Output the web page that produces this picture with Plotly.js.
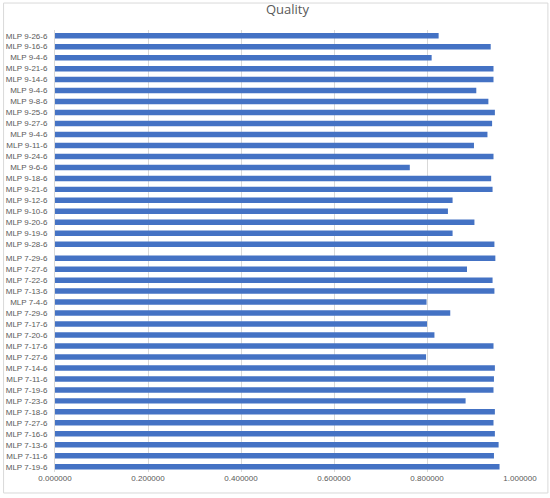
<!DOCTYPE html>
<html>
<head>
<meta charset="utf-8">
<script src="https://cdn.plot.ly/plotly-3.0.1.min.js"></script>
<style>
	html, body { margin: 0; padding: 0; background: #fff; }
	#chart { width: 550px; height: 498px; }
</style>
</head>
<body>
<div id="chart"></div>
<script>
	'use strict';

	// September group (top to bottom)
	const labels9 = [
		'MLP 9-26-6', 'MLP 9-16-6', 'MLP 9-4-6', 'MLP 9-21-6', 'MLP 9-14-6',
		'MLP 9-4-6', 'MLP 9-8-6', 'MLP 9-25-6', 'MLP 9-27-6', 'MLP 9-4-6',
		'MLP 9-11-6', 'MLP 9-24-6', 'MLP 9-6-6', 'MLP 9-18-6', 'MLP 9-21-6',
		'MLP 9-12-6', 'MLP 9-10-6', 'MLP 9-20-6', 'MLP 9-19-6', 'MLP 9-28-6',
	];
	const quality9 = [
		0.825, 0.937, 0.810, 0.943, 0.943,
		0.906, 0.932, 0.946, 0.940, 0.930,
		0.901, 0.943, 0.763, 0.938, 0.941,
		0.855, 0.845, 0.902, 0.855, 0.945,
	];

	// July group (top to bottom)
	const labels7 = [
		'MLP 7-29-6', 'MLP 7-27-6', 'MLP 7-22-6', 'MLP 7-13-6', 'MLP 7-4-6',
		'MLP 7-29-6', 'MLP 7-17-6', 'MLP 7-20-6', 'MLP 7-17-6', 'MLP 7-27-6',
		'MLP 7-14-6', 'MLP 7-11-6', 'MLP 7-19-6', 'MLP 7-23-6', 'MLP 7-18-6',
		'MLP 7-27-6', 'MLP 7-16-6', 'MLP 7-13-6', 'MLP 7-11-6', 'MLP 7-19-6',
	];
	const quality7 = [
		0.947, 0.886, 0.941, 0.945, 0.799,
		0.850, 0.800, 0.816, 0.943, 0.798,
		0.946, 0.944, 0.943, 0.883, 0.946,
		0.943, 0.946, 0.954, 0.944, 0.956,
	];

	const xTicks = [0, 0.2, 0.4, 0.6, 0.8, 1.0];

	// small extra gap between the two groups (as in the source sheet)
	const groupGap = 0.27;

	const labels = labels9.concat( labels7 );
	const values = quality9.concat( quality7 );
	const rows = labels.map(( _, i ) => i < labels9.length ? i : i + groupGap );

	const grey = '#595959';

	const trace = {
		type: 'bar',
		orientation: 'h',
		x: values,
		y: rows,
		marker: { color: '#4472C4' },
		width: 0.5,
		hovertemplate: '%{text}: %{x:.6f}<extra></extra>',
		text: labels,
		textposition: 'none',
	};

	const layout = {
		width: 550,
		height: 498,
		margin: { l: 54.5, r: 30, t: 30, b: 26 },
		paper_bgcolor: '#fff',
		plot_bgcolor: '#fff',
		showlegend: false,
		font: { family: 'Liberation Sans, Arial, sans-serif', size: 8, color: grey },
		title: {
			text: 'Quality',
			font: { family: 'Open Sans, Liberation Sans, sans-serif', size: 13, color: grey },
			x: 0.5,
			xref: 'paper',
			xanchor: 'center',
			y: 1,
			yref: 'container',
			yanchor: 'top',
			pad: { t: 5 },
		},
		xaxis: {
			range: [0, 1.0],
			tickvals: xTicks,
			ticktext: xTicks.map(( v ) => v.toFixed(6)),
			showgrid: true,
			gridcolor: '#d9d9d9',
			gridwidth: 1,
			zeroline: false,
			showline: false,
			ticks: '',
			tickfont: { size: 8, color: grey },
			fixedrange: true,
		},
		yaxis: {
			range: [ rows[ rows.length - 1 ] + 0.48, -0.52 ],
			tickvals: rows,
			ticktext: labels,
			showgrid: false,
			zeroline: false,
			showline: true,
			linecolor: '#d9d9d9',
			linewidth: 1,
			ticks: '',
			ticklabelstandoff: 5,
			tickfont: { size: 8, color: grey },
			fixedrange: true,
		},
		shapes: [{
			type: 'rect',
			xref: 'paper', yref: 'paper',
			x0: -0.1106, x1: 1.060,
			y0: -0.0475, y1: 1.061,
			line: { color: '#d9d9d9', width: 1 },
			fillcolor: 'rgba(0,0,0,0)',
			layer: 'below',
		}],
	};

	Plotly.newPlot('chart', [ trace ], layout, { displayModeBar: false, staticPlot: true });
</script>
</body>
</html>
